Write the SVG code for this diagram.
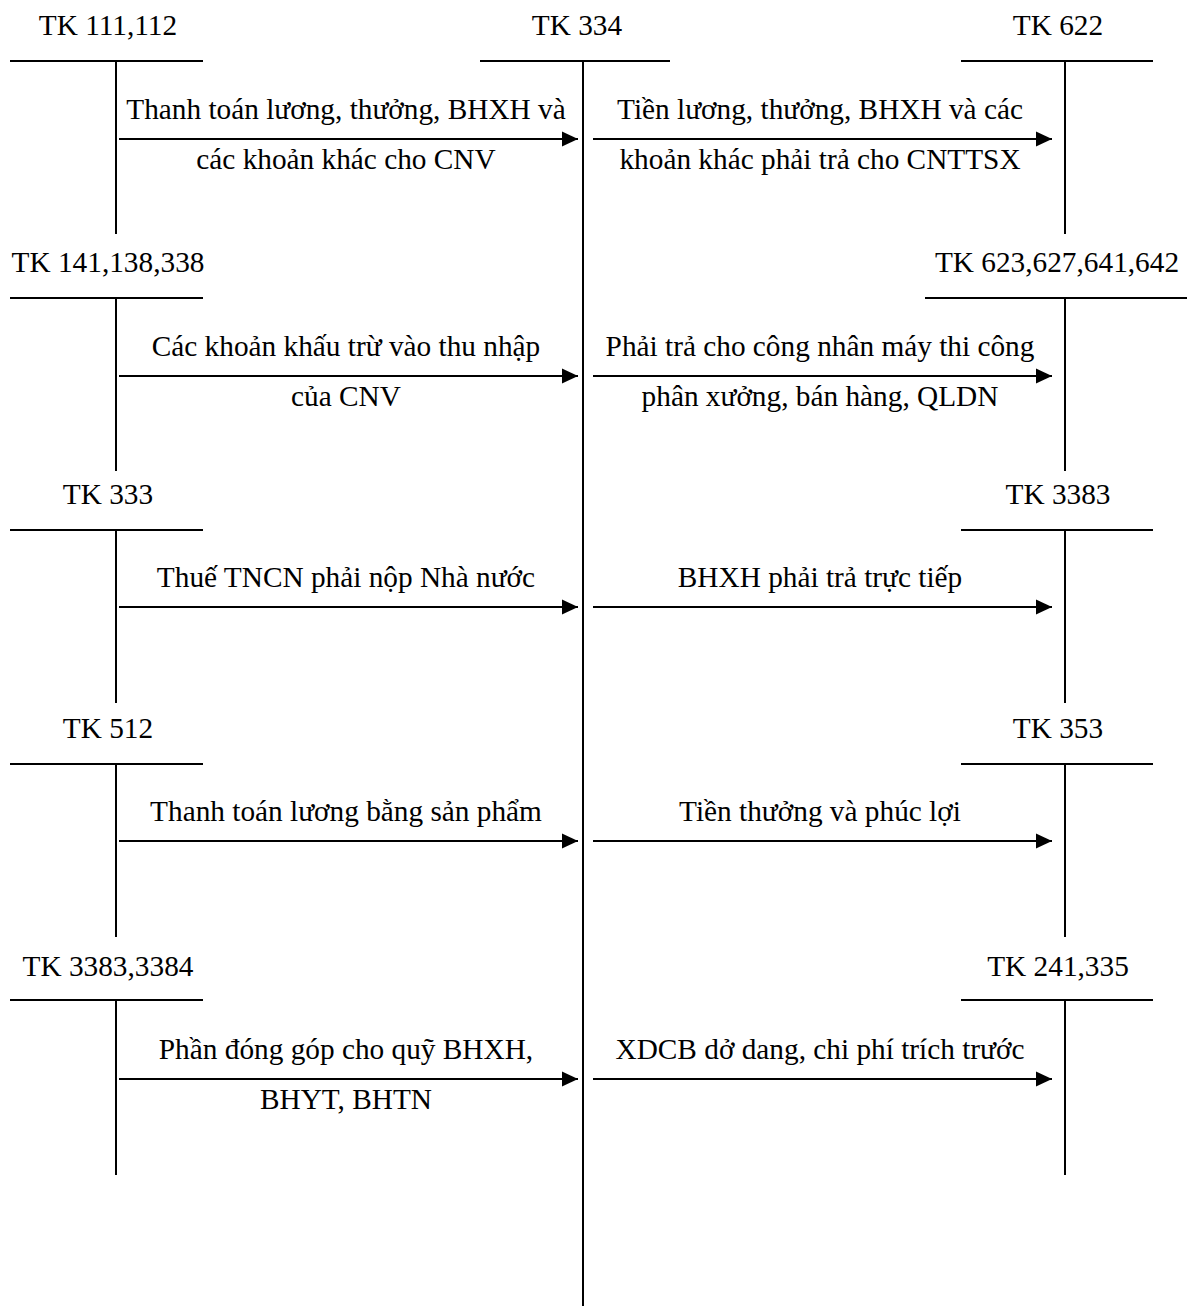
<svg xmlns="http://www.w3.org/2000/svg" width="1187" height="1306" viewBox="0 0 1187 1306">
<style>
text{font-family:"Liberation Serif","Times New Roman",serif;font-size:29.3px;fill:#000;text-anchor:middle}
line{stroke:#000;stroke-width:2}
</style>
<defs>
<marker id="ah" markerUnits="userSpaceOnUse" markerWidth="18" markerHeight="18" refX="16" refY="8" orient="auto">
<path d="M0,0.5 L16,8 L0,15.5 Z" fill="#000"/>
</marker>
</defs>
<rect width="1187" height="1306" fill="#fff"/>
<g id="tk334">
<text x="577" y="35">TK 334</text>
<line x1="480" y1="61" x2="670" y2="61"/>
<line x1="583" y1="61" x2="583" y2="1306"/>
</g>
<g id="tk111">
<text x="108" y="35">TK 111,112</text>
<line x1="10" y1="61" x2="203" y2="61"/>
<line x1="116" y1="61" x2="116" y2="234"/>
</g>
<g id="tk622">
<text x="1058" y="35">TK 622</text>
<line x1="961" y1="61" x2="1153" y2="61"/>
<line x1="1065" y1="61" x2="1065" y2="234"/>
</g>
<g id="tk141">
<text x="108" y="272">TK 141,138,338</text>
<line x1="10" y1="298" x2="203" y2="298"/>
<line x1="116" y1="298" x2="116" y2="471"/>
</g>
<g id="tk623">
<text x="1057" y="272">TK 623,627,641,642</text>
<line x1="925" y1="298" x2="1187" y2="298"/>
<line x1="1065" y1="298" x2="1065" y2="471"/>
</g>
<g id="tk333">
<text x="108" y="504">TK 333</text>
<line x1="10" y1="530" x2="203" y2="530"/>
<line x1="116" y1="530" x2="116" y2="703"/>
</g>
<g id="tk3383">
<text x="1058" y="504">TK 3383</text>
<line x1="961" y1="530" x2="1153" y2="530"/>
<line x1="1065" y1="530" x2="1065" y2="703"/>
</g>
<g id="tk512">
<text x="108" y="738">TK 512</text>
<line x1="10" y1="764" x2="203" y2="764"/>
<line x1="116" y1="764" x2="116" y2="937"/>
</g>
<g id="tk353">
<text x="1058" y="738">TK 353</text>
<line x1="961" y1="764" x2="1153" y2="764"/>
<line x1="1065" y1="764" x2="1065" y2="937"/>
</g>
<g id="tk3383_3384">
<text x="108" y="976">TK 3383,3384</text>
<line x1="10" y1="1000" x2="203" y2="1000"/>
<line x1="116" y1="1000" x2="116" y2="1175"/>
</g>
<g id="tk241">
<text x="1058" y="976">TK 241,335</text>
<line x1="961" y1="1000" x2="1153" y2="1000"/>
<line x1="1065" y1="1000" x2="1065" y2="1175"/>
</g>
<g id="connectors">
<line x1="119" y1="139" x2="578" y2="139" marker-end="url(#ah)"/>
<line x1="593" y1="139" x2="1052" y2="139" marker-end="url(#ah)"/>
<line x1="119" y1="376" x2="578" y2="376" marker-end="url(#ah)"/>
<line x1="593" y1="376" x2="1052" y2="376" marker-end="url(#ah)"/>
<line x1="119" y1="607" x2="578" y2="607" marker-end="url(#ah)"/>
<line x1="593" y1="607" x2="1052" y2="607" marker-end="url(#ah)"/>
<line x1="119" y1="841" x2="578" y2="841" marker-end="url(#ah)"/>
<line x1="593" y1="841" x2="1052" y2="841" marker-end="url(#ah)"/>
<line x1="119" y1="1079" x2="578" y2="1079" marker-end="url(#ah)"/>
<line x1="593" y1="1079" x2="1052" y2="1079" marker-end="url(#ah)"/>
</g>
<g id="labels">
<text x="346" y="119">Thanh toán lương, thưởng, BHXH và</text>
<text x="346" y="169">các khoản khác cho CNV</text>
<text x="820" y="119">Tiền lương, thưởng, BHXH và các</text>
<text x="820" y="169">khoản khác phải trả cho CNTTSX</text>
<text x="346" y="356">Các khoản khấu trừ vào thu nhập</text>
<text x="346" y="406">của CNV</text>
<text x="820" y="356">Phải trả cho công nhân máy thi công</text>
<text x="820" y="406">phân xưởng, bán hàng, QLDN</text>
<text x="346" y="587">Thuế TNCN phải nộp Nhà nước</text>
<text x="820" y="587">BHXH phải trả trực tiếp</text>
<text x="346" y="821">Thanh toán lương bằng sản phẩm</text>
<text x="820" y="821">Tiền thưởng và phúc lợi</text>
<text x="346" y="1059">Phần đóng góp cho quỹ BHXH,</text>
<text x="346" y="1109">BHYT, BHTN</text>
<text x="820" y="1059">XDCB dở dang, chi phí trích trước</text>
</g>
</svg>
